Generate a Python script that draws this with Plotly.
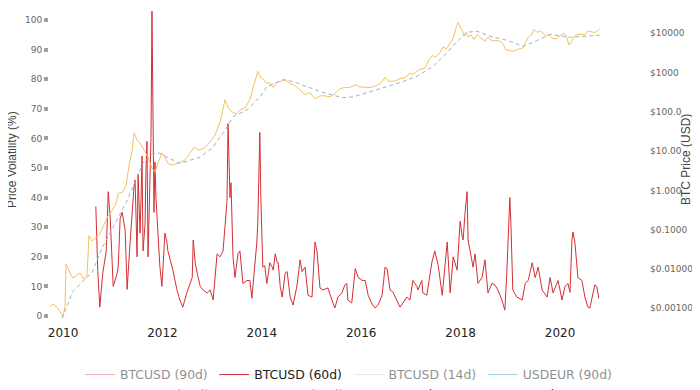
import plotly.graph_objects as go

# ---- 60-day BTCUSD volatility (%) ----
vol_years = [2010.66, 2010.70, 2010.74, 2010.80, 2010.87, 2010.91, 2010.95, 2011.01, 2011.09, 2011.11,
             2011.15, 2011.19, 2011.25, 2011.29, 2011.35, 2011.39, 2011.43, 2011.45, 2011.47, 2011.49,
             2011.51, 2011.55, 2011.57, 2011.59, 2011.61, 2011.65, 2011.67, 2011.69, 2011.71, 2011.75,
             2011.77, 2011.79, 2011.81, 2011.83, 2011.85, 2011.87, 2011.91, 2011.95, 2011.99, 2012.01,
             2012.05, 2012.09, 2012.11, 2012.21, 2012.29, 2012.35, 2012.41, 2012.49, 2012.56, 2012.60,
             2012.62, 2012.66, 2012.70, 2012.76, 2012.82, 2012.90, 2012.96, 2013.02, 2013.10, 2013.16,
             2013.22, 2013.26, 2013.30, 2013.32, 2013.34, 2013.36, 2013.38, 2013.42, 2013.46, 2013.52,
             2013.56, 2013.62, 2013.70, 2013.76, 2013.80, 2013.86, 2013.90, 2013.92, 2013.94, 2013.96,
             2013.98, 2014.00, 2014.02, 2014.06, 2014.10, 2014.12, 2014.16, 2014.21, 2014.23, 2014.27,
             2014.31, 2014.33, 2014.37, 2014.41, 2014.47, 2014.51, 2014.57, 2014.63, 2014.71, 2014.77,
             2014.81, 2014.87, 2014.93, 2015.01, 2015.07, 2015.11, 2015.17, 2015.23, 2015.33, 2015.41,
             2015.47, 2015.53, 2015.61, 2015.67, 2015.71, 2015.73, 2015.81, 2015.88, 2015.94, 2016.02,
             2016.08, 2016.14, 2016.22, 2016.28, 2016.34, 2016.42, 2016.48, 2016.52, 2016.58, 2016.64,
             2016.72, 2016.78, 2016.84, 2016.92, 2016.98, 2017.04, 2017.12, 2017.14, 2017.22, 2017.24,
             2017.32, 2017.42, 2017.48, 2017.55, 2017.63, 2017.69, 2017.73, 2017.79, 2017.85, 2017.93,
             2017.99, 2018.03, 2018.05, 2018.09, 2018.13, 2018.15, 2018.19, 2018.25, 2018.29, 2018.35,
             2018.43, 2018.49, 2018.55, 2018.63, 2018.69, 2018.75, 2018.83, 2018.89, 2018.93, 2018.97,
             2018.99, 2019.01, 2019.05, 2019.13, 2019.24, 2019.30, 2019.36, 2019.44, 2019.50, 2019.56,
             2019.64, 2019.74, 2019.80, 2019.86, 2019.96, 2020.04, 2020.10, 2020.16, 2020.20, 2020.24,
             2020.26, 2020.30, 2020.36, 2020.44, 2020.50, 2020.56, 2020.60, 2020.70, 2020.74, 2020.78]
vol_60d = [37, 15, 3, 14.5, 22, 42, 33, 10, 14.5, 16.5,
           33, 35, 29, 9, 25, 36, 44, 46, 30, 20,
           48, 28, 40, 54, 22, 31, 50, 59, 20, 45,
           60, 103, 60, 35, 52, 40, 28, 16.5, 10, 16.5,
           28, 25, 22, 15.5, 9, 5.4, 3, 7.8, 11, 13,
           25.7, 18, 14.5, 10, 8.8, 7.8, 8.8, 5.4, 21, 20,
           22, 30, 39, 65, 48, 40, 45, 20, 13, 21,
           22, 11, 12, 12, 6, 16.5, 25, 32, 45, 62,
           40, 30, 16.5, 17, 11, 13, 18, 16.5, 15.5, 21,
           18, 18, 10, 6.4, 14.5, 15, 6.4, 3.7, 10.5, 19,
           15, 16.5, 7, 6.4, 25, 22, 9.5, 8.8, 9.5, 5.4,
           2.7, 6.4, 7.8, 10.5, 11, 5.4, 4.4, 16, 13, 12,
           12, 7, 4, 2.7, 3.7, 7, 16.5, 16, 8.8, 8,
           5.4, 3, 4.4, 6.4, 5.4, 12, 10, 8.8, 12, 7.8,
           7, 18, 22, 17, 7, 16.5, 25, 7.8, 20, 15.5,
           32, 27, 25.7, 35, 42, 25.7, 22, 16.5, 21, 11,
           13, 19, 7.8, 11, 10.5, 8.8, 5.4, 2, 15, 35,
           40, 32, 8.8, 6.4, 5.4, 11, 12, 18, 13, 16.5,
           8.8, 6.4, 13, 7.8, 12, 5.4, 10, 11, 8, 25.7,
           28.4, 24.7, 13, 12, 6.4, 3, 2.7, 10.5, 10, 6]

# ---- BTC price (USD) ----
price_years = [2009.74, 2009.80, 2009.88, 2009.94, 2010.00, 2010.04, 2010.06, 2010.14, 2010.20, 2010.28,
               2010.34, 2010.42, 2010.48, 2010.50, 2010.52, 2010.58, 2010.66, 2010.74, 2010.82, 2010.91,
               2010.99, 2011.07, 2011.11, 2011.19, 2011.27, 2011.33, 2011.39, 2011.43, 2011.49, 2011.55,
               2011.63, 2011.71, 2011.79, 2011.85, 2011.91, 2011.99, 2012.05, 2012.11, 2012.19, 2012.31,
               2012.45, 2012.56, 2012.64, 2012.72, 2012.84, 2012.96, 2013.06, 2013.16, 2013.22, 2013.26,
               2013.32, 2013.40, 2013.48, 2013.56, 2013.66, 2013.76, 2013.84, 2013.92, 2013.98, 2014.04,
               2014.10, 2014.16, 2014.23, 2014.29, 2014.37, 2014.47, 2014.57, 2014.67, 2014.77, 2014.87,
               2014.97, 2015.07, 2015.17, 2015.27, 2015.37, 2015.47, 2015.57, 2015.67, 2015.77, 2015.88,
               2015.98, 2016.08, 2016.18, 2016.28, 2016.38, 2016.48, 2016.54, 2016.58, 2016.68, 2016.78,
               2016.88, 2016.98, 2017.04, 2017.08, 2017.18, 2017.28, 2017.38, 2017.44, 2017.50, 2017.59,
               2017.65, 2017.71, 2017.79, 2017.85, 2017.91, 2017.95, 2017.99, 2018.03, 2018.07, 2018.11,
               2018.15, 2018.21, 2018.27, 2018.33, 2018.41, 2018.49, 2018.55, 2018.63, 2018.71, 2018.79,
               2018.85, 2018.91, 2018.99, 2019.07, 2019.15, 2019.24, 2019.30, 2019.36, 2019.42, 2019.48,
               2019.54, 2019.60, 2019.66, 2019.72, 2019.78, 2019.84, 2019.92, 2020.00, 2020.06, 2020.12,
               2020.18, 2020.24, 2020.30, 2020.36, 2020.44, 2020.50, 2020.56, 2020.62, 2020.68, 2020.74,
               2020.80]
btc_price = [0.0011, 0.0013, 0.00106, 0.00084, 0.00062, 0.0011, 0.0135, 0.0079, 0.0059, 0.0070,
             0.0079, 0.0055, 0.0066, 0.018, 0.070, 0.052, 0.062, 0.079, 0.127, 0.23,
             0.31, 0.47, 0.84, 0.89, 1.35, 4.4, 10.6, 29, 19, 16,
             10.6, 7.0, 3.7, 2.9, 4.9, 8.9, 7.0, 4.9, 4.4, 4.9,
             5.9, 9.4, 12.6, 10.6, 12, 17, 26, 55, 112, 204,
             126, 100, 89, 112, 126, 204, 490, 1070, 740, 660,
             520, 555, 415, 555, 590, 660, 520, 465, 360, 273,
             310, 215, 256, 256, 240, 290, 390, 415, 415, 490,
             430, 420, 415, 450, 520, 750, 620, 600, 610, 700,
             740, 960, 900, 1000, 1200, 1300, 2300, 2700, 2500, 3300,
             4500, 4000, 6000, 7500, 14000, 19000, 14500, 12000, 8500, 10500,
             8000, 9000, 7000, 9300, 7500, 6300, 8000, 6400, 6500, 6400,
             5500, 3800, 3600, 3500, 3900, 4100, 5500, 8000, 9000, 12500,
             10500, 11500, 10000, 8200, 9300, 7500, 7200, 8500, 10000, 9000,
             5000, 6500, 8800, 9500, 9300, 9200, 11500, 11200, 10500, 11000,
             13000]

# ---- 200-day moving average (USD) ----
ma_years = [2009.98, 2010.20, 2010.44, 2010.58, 2010.68, 2010.78, 2011.29, 2011.61, 2011.81, 2011.95,
            2012.09, 2012.35, 2012.76, 2013.02, 2013.30, 2013.42, 2013.70, 2013.96, 2014.10, 2014.31,
            2014.43, 2014.63, 2014.91, 2015.23, 2015.63, 2015.84, 2016.12, 2016.44, 2016.78, 2017.12,
            2017.44, 2017.73, 2017.93, 2018.13, 2018.33, 2018.59, 2018.85, 2019.05, 2019.26, 2019.46,
            2019.66, 2019.80, 2020.20, 2020.80]
ma_200d = [0.00055, 0.0027, 0.0055, 0.0079, 0.016, 0.033, 0.55, 4.9, 8.9, 8.9,
           7.0, 4.9, 7.0, 12.6, 41, 75, 112, 240, 435, 555,
           660, 590, 435, 310, 230, 240, 310, 415, 555, 800,
           1420, 3250, 6200, 10600, 11300, 8400, 7060, 5890, 4650, 5890,
           7900, 9400, 7900, 8900]

x_tick_vals = [2010, 2012, 2014, 2016, 2018, 2020]
x_tick_text = ["2010", "2012", "2014", "2016", "2018", "2020"]
vol_tick_vals = [0, 10, 20, 30, 40, 50, 60, 70, 80, 90, 100]
price_tick_vals = [0.001, 0.01, 0.1, 1, 10, 100, 1000, 10000]

# series shown only as (switched-off) legend entries
hidden_names = ["BTCUSD (90d)", "BTCUSD (14d)", "USDEUR (90d)", "USDEUR (60d)", "USDEUR (14d)"]
hidden_colors = ["#e0606a", "#d0d0d0", "#4aa8dc", "#2c7fb8", "#9ecae1"]


def hidden(i):
    return go.Scatter(x=[None], y=[None], name=hidden_names[i], mode="lines",
                      line=dict(color=hidden_colors[i], width=1), visible="legendonly")


fig = go.Figure()
fig.add_trace(hidden(0))
fig.add_trace(go.Scatter(x=vol_years, y=vol_60d, name="BTCUSD (60d)", mode="lines",
                         line=dict(color="#d42f33", width=1)))
fig.add_trace(hidden(1))
fig.add_trace(hidden(2))
fig.add_trace(hidden(3))
fig.add_trace(hidden(4))
fig.add_trace(go.Scatter(x=price_years, y=btc_price, name="BTC Price", mode="lines", yaxis="y2",
                         line=dict(color="#f4c15e", width=1)))
fig.add_trace(go.Scatter(x=ma_years, y=ma_200d, name="200d MA", mode="lines", yaxis="y2",
                         line=dict(color="#a2b0c6", width=1, dash="4px,3px")))

L, R, T, B = 41, 59, 0, 74
PW, PH = 700 - L - R, 390 - T - B

fig.update_layout(
    width=700, height=390,
    margin=dict(l=L, r=R, t=T, b=B, autoexpand=False),
    paper_bgcolor="white", plot_bgcolor="white",
    font=dict(family="DejaVu Sans", size=12, color="#333"),
    xaxis=dict(range=[2009.718, 2021.79], tickvals=x_tick_vals, ticktext=x_tick_text,
               tickfont=dict(size=12, color="#222"), showgrid=False, zeroline=False,
               showline=False, ticks="", automargin=False),
    yaxis=dict(range=[-2.70, 104.05], tickvals=vol_tick_vals, showgrid=False, zeroline=False,
               ticks="outside", ticklen=4, tickwidth=4, tickcolor="#a0a0a0",
               tickfont=dict(size=9, color="#666"), automargin=False),
    yaxis2=dict(type="log", overlaying="y", side="right", range=[-3.40, 4.643],
                tickvals=price_tick_vals, tickformat="$.4r", showgrid=False, zeroline=False,
                tickfont=dict(size=9, color="#666"), automargin=False),
    legend=dict(orientation="h", x=(72 - L) / PW, y=-36 / PH, xanchor="left", yanchor="top",
                font=dict(family="DejaVu Sans", size=12.4, color="#222"),
                bgcolor="rgba(0,0,0,0)"),
    annotations=[
        dict(text="Price Volatility (%)", textangle=-90, xref="paper", yref="paper",
             x=(-5 - L) / PW, y=1 - 152 / PH, showarrow=False,
             font=dict(family="Liberation Sans", size=12, color="#444")),
        dict(text="BTC Price (USD)", textangle=-90, xref="paper", yref="paper",
             x=(687 - L) / PW, y=1 - 152 / PH, showarrow=False,
             font=dict(family="Liberation Sans", size=12, color="#444")),
    ],
)

fig.write_html("out.html")
